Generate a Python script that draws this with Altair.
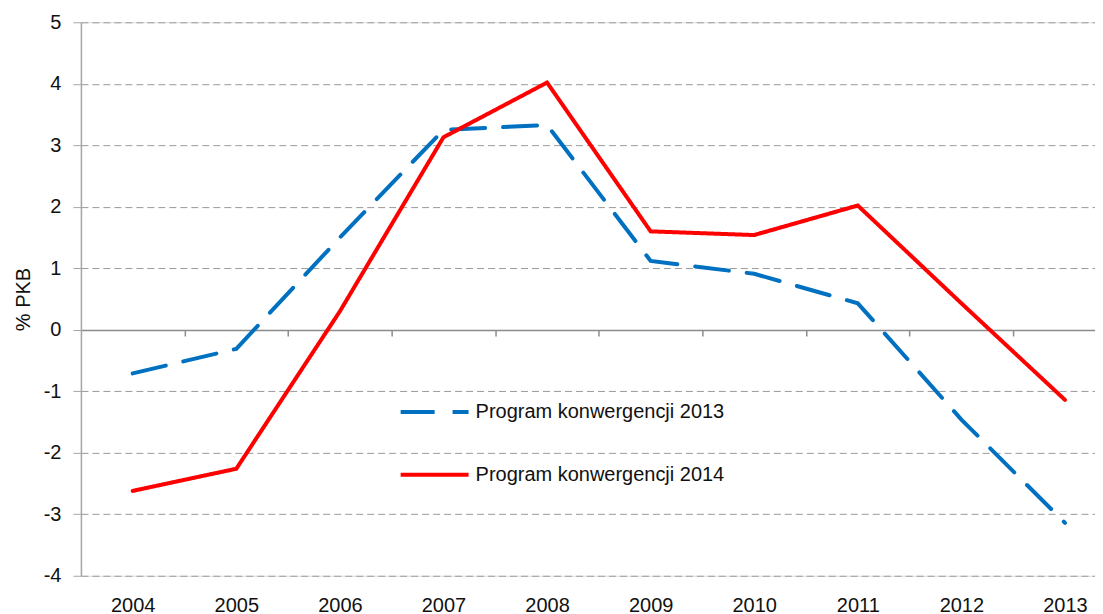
import altair as alt
import pandas as pd

years = [2004, 2005, 2006, 2007, 2008, 2009, 2010, 2011, 2012, 2013]
pk2013 = [-0.71, -0.31, 1.50, 3.25, 3.33, 1.12, 0.91, 0.43, -1.46, -3.14]
pk2014 = [-2.62, -2.26, 0.30, 3.13, 4.02, 1.60, 1.54, 2.02, 0.43, -1.14]
series_names = ["Program konwergencji 2013", "Program konwergencji 2014"]
series_colors = ["#0070C0", "#FF0000"]
y_ticks = [-4, -3, -2, -1, 0, 1, 2, 3, 4, 5]
boundaries = [2004.5, 2005.5, 2006.5, 2007.5, 2008.5, 2009.5, 2010.5, 2011.5, 2012.5]

rows = []
for name, vals in zip(series_names, [pk2013, pk2014]):
    for yr, v in zip(years, vals):
        rows.append({"year": yr, "value": v, "series": name})
df = pd.DataFrame(rows)

FONT = "Liberation Sans"
TXT = "#111111"
PLOT_H = 554
xscale = alt.Scale(domain=[2003.5, 2013.29], nice=False, zero=False)
yscale = alt.Scale(domain=[-4, 5], nice=False, zero=False)

y_enc = alt.Y(
    "value:Q",
    scale=yscale,
    axis=alt.Axis(
        values=y_ticks,
        labelExpr="toString(datum.value)",
        grid=True,
        gridDash=[7, 4],
        gridColor="#9a9a9a",
        gridWidth=1,
        domain=True,
        domainColor="#a6a6a6",
        domainWidth=1.5,
        ticks=True,
        tickSize=8,
        tickColor="#a6a6a6",
        labelPadding=12,
        labelFontSize=20,
        labelColor=TXT,
        labelFont=FONT,
        title="% PKB",
        titleFontSize=20,
        titleFont=FONT,
        titleFontWeight="normal",
        titleColor=TXT,
        titlePadding=10,
    ),
)

leg = alt.Legend(
    title=None,
    orient="none",
    legendX=318,
    legendY=354,
    symbolType="stroke",
    symbolSize=4624,
    symbolStrokeWidth=4,
    labelFontSize=20,
    labelFont=FONT,
    labelColor=TXT,
    labelOffset=5,
    labelLimit=0,
    rowPadding=17,
)

lines = alt.Chart(df).mark_line(strokeWidth=4, strokeCap="round").encode(
    x=alt.X(
        "year:Q",
        scale=xscale,
        axis=alt.Axis(
            values=years,
            labelExpr="toString(datum.value)",
            orient="bottom",
            ticks=False,
            domain=False,
            grid=False,
            labelPadding=20,
            labelFontSize=20,
            labelColor=TXT,
            labelFont=FONT,
            title=None,
        ),
    ),
    y=y_enc,
    color=alt.Color(
        "series:N",
        scale=alt.Scale(domain=series_names, range=series_colors),
        legend=leg,
    ),
    strokeDash=alt.StrokeDash(
        "series:N",
        scale=alt.Scale(domain=series_names, range=[[34, 18], [1, 0]]),
        legend=leg,
    ),
)

zero_axis = alt.Chart(df).mark_line(opacity=0).encode(
    x=alt.X(
        "year:Q",
        scale=xscale,
        axis=alt.Axis(
            values=boundaries,
            orient="bottom",
            offset=-round(PLOT_H * 4 / 9),
            labels=False,
            ticks=True,
            tickSize=6,
            tickColor="#8c8c8c",
            tickWidth=1.5,
            domain=True,
            domainColor="#8c8c8c",
            domainWidth=1.5,
            grid=False,
            title=None,
        ),
    ),
    y=y_enc,
)

chart = (
    alt.layer(lines, zero_axis)
    .resolve_axis(x="independent")
    .properties(
        width=1015,
        height=PLOT_H,
        autosize=alt.AutoSizeParams(type="none"),
        padding={"left": 73, "top": 14, "right": 0, "bottom": 40},
    )
    .configure_view(stroke=None)
    .configure(font=FONT)
)

chart.save("out.html", embed_options={"renderer": "svg", "actions": False})
